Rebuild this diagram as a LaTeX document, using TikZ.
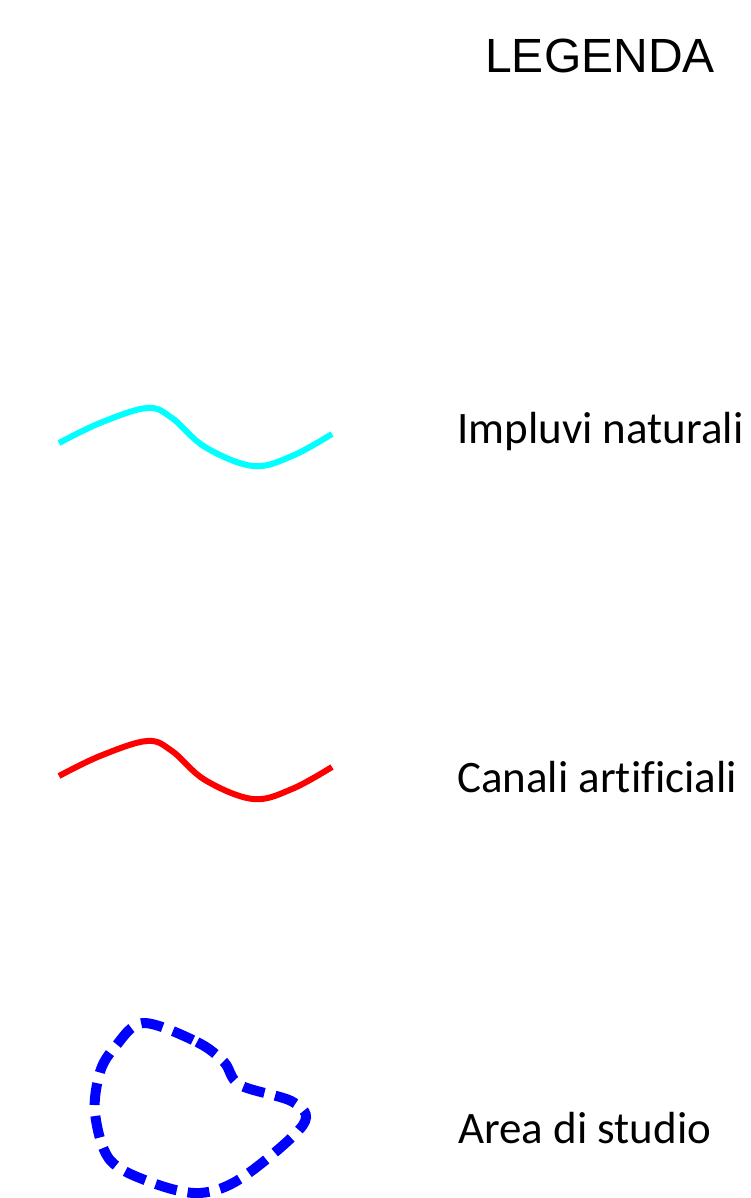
\documentclass[tikz,border=0pt]{standalone}
\usepackage{fontspec}
\setmainfont{Liberation Sans}
\newfontfamily\labelfont[Ligatures=NoCommon]{Carlito}
\usepackage{tikz}
\usetikzlibrary{positioning}

\definecolor{impluvio}{RGB}{0,255,255}
\definecolor{canale}{RGB}{255,0,0}
\definecolor{areablu}{RGB}{0,0,255}

\tikzset{
  legtext/.style={anchor=base west, inner sep=0pt, font=\labelfont\fontsize{45}{50}\selectfont},
  stream/.style={line width=6pt, line cap=butt, line join=round},
  arealine/.style={line width=10pt, dash pattern=on 22pt off 11pt, draw=areablu}
}

\begin{document}
\begin{tikzpicture}[x=1pt,y=-1pt]
	\useasboundingbox[fill=white] (0,0) rectangle (750,1198);
	\node[anchor=base, inner sep=0pt, font=\fontsize{48}{54}\selectfont] (title) at (600,73) {LEGENDA};

	% impluvi e canali: same curve, shifted down
	\foreach \dy/\col in {0/impluvio,333/canale}
	{
	  \draw[stream, draw=\col] plot[smooth, tension=0.6] coordinates
	    {(59,443+\dy) (100,423+\dy) (147,408+\dy) (172,418+\dy) (205,447+\dy) (253,466+\dy) (292,456+\dy) (332,434+\dy)};
	}
	\node[legtext] (impluvi) at (457,443) {Impluvi naturali};
	\node[legtext] (canali) at (457,792) {Canali artificiali};

	% area di studio
	\draw[arealine] plot[smooth cycle, tension=0.55] coordinates
	  {(143,1023) (197,1042) (224,1062) (240,1085) (293,1102) (303,1125) (243,1177) (200,1193) (153,1183) (110,1160) (95,1113) (100,1072) (115,1047)};
	\node[legtext] (area) at (458,1143) {Area di studio};
\end{tikzpicture}
\end{document}
